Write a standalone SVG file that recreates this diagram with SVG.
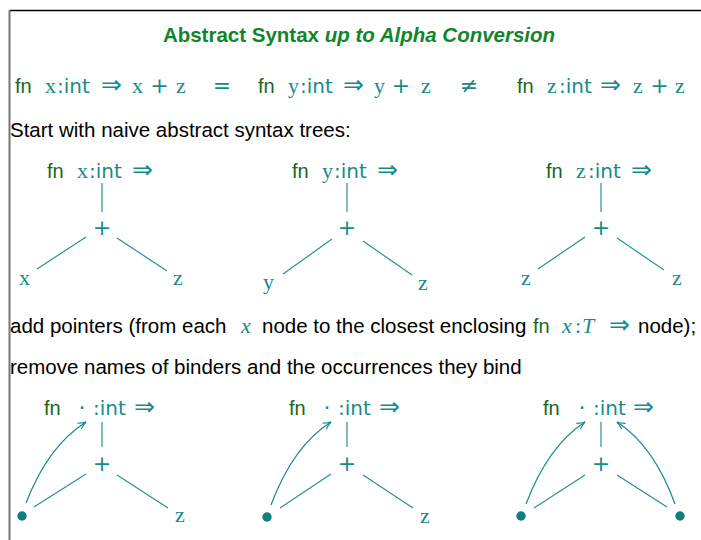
<svg xmlns="http://www.w3.org/2000/svg" width="701" height="540" viewBox="0 0 701 540">
<style>
.t{font-family:"Liberation Sans",Arial,sans-serif;font-size:20.5px;fill:#000}
.title{font-family:"Liberation Sans",Arial,sans-serif;font-size:20.5px;font-weight:bold;fill:#11852c}
.fn{font-family:"Liberation Sans",Arial,sans-serif;font-size:20px;fill:#1b661b}
.v{font-family:"Liberation Serif","Times New Roman",serif;font-size:22px;fill:#178a8a}
.vi{font-family:"Liberation Serif","Times New Roman",serif;font-size:22px;font-style:italic;fill:#178a8a}
.s{font-family:"DejaVu Sans",sans-serif;font-size:20px;fill:#178a8a}
.op{font-family:"DejaVu Sans",sans-serif;font-size:22px;fill:#178a8a}
.arw{font-family:"DejaVu Sans",sans-serif;font-size:25px;fill:#178a8a}
.pl{font-family:"DejaVu Sans",sans-serif;font-size:22px;fill:#178a8a;text-anchor:middle}
.eq{font-family:"DejaVu Sans",sans-serif;font-size:22px;fill:#178a8a;text-anchor:middle}
.ln{stroke:#2a9090;stroke-width:1.2;fill:none}
.ar{stroke:#178a8a;stroke-width:1.2;fill:none}
.dot{fill:#0f8080}
</style>
<defs>
<marker id="tip" markerUnits="userSpaceOnUse" markerWidth="12" markerHeight="12" viewBox="-10 -6 12 12" refX="0" refY="0" orient="auto">
<path d="M-8,-3.5 Q-3,-0.6 0,0 Q-3,0.6 -8,3.5" stroke="#178a8a" stroke-width="1.1" fill="none"/>
</marker>
</defs>

<g id="frame">
<line x1="10" y1="10.5" x2="701" y2="10.5" stroke="#000" stroke-width="1.5"/>
<line x1="9.5" y1="10" x2="9.5" y2="540" stroke="#777" stroke-width="2"/>
</g>

<g id="title"><text class="title" x="359" y="42" text-anchor="middle">Abstract Syntax <tspan font-style="italic">up to Alpha Conversion</tspan></text></g>

<g id="equation">
<text class="fn" x="15" y="93">fn</text>
<text class="v" x="45" y="93">x</text><text class="s" x="57" y="93">:int</text>
<text class="arw" x="101" y="93">⇒</text>
<text class="v" x="132" y="93">x</text><text class="pl" x="159.5" y="93">+</text><text class="v" x="176" y="93">z</text>
<text class="eq" x="222" y="93">=</text>
<text class="fn" x="258" y="93">fn</text>
<text class="v" x="288" y="93">y</text><text class="s" x="300" y="93">:int</text>
<text class="arw" x="343" y="93">⇒</text>
<text class="v" x="374" y="93">y</text><text class="pl" x="401" y="93">+</text><text class="v" x="421" y="93">z</text>
<text class="eq" x="469" y="93">≠</text>
<text class="fn" x="517" y="93">fn</text>
<text class="v" x="547" y="93">z</text><text class="s" x="559" y="93">:int</text>
<text class="arw" x="600" y="93">⇒</text>
<text class="v" x="633" y="93">z</text><text class="pl" x="659.5" y="93">+</text><text class="v" x="675" y="93">z</text>
</g>

<g id="caption1"><text class="t" x="10" y="137">Start with naive abstract syntax trees:</text></g>

<g id="connectors">
<line class="ln" x1="102" y1="183" x2="102" y2="212"/>
<path class="ln" d="M86,237 L37,269"/>
<path class="ln" d="M117,238 L167,271"/>
<line class="ln" x1="347" y1="183" x2="347" y2="212"/>
<path class="ln" d="M332,239 L283,274"/>
<path class="ln" d="M363,241 L412,275"/>
<line class="ln" x1="601" y1="183" x2="601" y2="212"/>
<path class="ln" d="M585,237 L538,269"/>
<path class="ln" d="M617,238 L664,270"/>

<line class="ln" x1="102" y1="422" x2="102" y2="447"/>
<path class="ln" d="M86,474 L34,507"/>
<path class="ln" d="M117,475 L168,508"/>
<line class="ln" x1="347" y1="422" x2="347" y2="447"/>
<path class="ln" d="M331,474 L280,508"/>
<path class="ln" d="M363,475 L413,508"/>
<line class="ln" x1="601" y1="422" x2="601" y2="447"/>
<path class="ln" d="M585,475 L534,508"/>
<path class="ln" d="M617,475 L667,507"/>

<path class="ar" d="M26,503 Q48,446 86,422" marker-end="url(#tip)"/>
<path class="ar" d="M271,505 Q293,446 331,422" marker-end="url(#tip)"/>
<path class="ar" d="M526,504 Q548,446 585,422" marker-end="url(#tip)"/>
<path class="ar" d="M675,504 Q654,446 617,422" marker-end="url(#tip)"/>
</g>

<g id="tree1">
<text class="fn" x="47" y="178">fn</text><text class="v" x="77" y="178">x</text><text class="s" x="89" y="178">:int</text><text class="arw" x="132" y="178">⇒</text>
<text class="pl" x="102" y="235">+</text>
<text class="v" x="19" y="285">x</text>
<text class="v" x="173" y="285">z</text>
</g>
<g id="tree2">
<text class="fn" x="292" y="178">fn</text><text class="v" x="322" y="178">y</text><text class="s" x="334" y="178">:int</text><text class="arw" x="377" y="178">⇒</text>
<text class="pl" x="347" y="235">+</text>
<text class="v" x="263" y="289">y</text>
<text class="v" x="418" y="290">z</text>
</g>
<g id="tree3">
<text class="fn" x="546" y="178">fn</text><text class="v" x="576" y="178">z</text><text class="s" x="588" y="178">:int</text><text class="arw" x="631" y="178">⇒</text>
<text class="pl" x="601" y="235">+</text>
<text class="v" x="521" y="285">z</text>
<text class="v" x="672" y="285">z</text>
</g>

<g id="caption2">
<text class="t" y="333"><tspan x="10">add pointers (from each</tspan><tspan class="vi" x="241">x</tspan><tspan x="262">node to the closest enclosing</tspan><tspan class="fn" x="533">fn</tspan><tspan class="vi" x="562">x</tspan><tspan class="v" x="575">:</tspan><tspan class="vi" x="582">T</tspan><tspan class="arw" x="609">⇒</tspan><tspan x="638">node);</tspan></text>
</g>
<g id="caption3"><text class="t" x="10" y="374">remove names of binders and the occurrences they bind</text></g>

<g id="tree4">
<text class="fn" x="44" y="415">fn</text><text class="op" x="82" y="415" text-anchor="middle">·</text><text class="s" x="93" y="415">:int</text><text class="arw" x="134" y="415">⇒</text>
<text class="pl" x="102" y="471">+</text>
<circle class="dot" cx="22" cy="516" r="4.7"/>
<text class="v" x="175" y="522">z</text>
</g>
<g id="tree5">
<text class="fn" x="289" y="415">fn</text><text class="op" x="327" y="415" text-anchor="middle">·</text><text class="s" x="338" y="415">:int</text><text class="arw" x="379" y="415">⇒</text>
<text class="pl" x="347" y="471">+</text>
<circle class="dot" cx="267" cy="517" r="4.7"/>
<text class="v" x="420" y="523">z</text>
</g>
<g id="tree6">
<text class="fn" x="543" y="415">fn</text><text class="op" x="582" y="415" text-anchor="middle">·</text><text class="s" x="593" y="415">:int</text><text class="arw" x="633" y="415">⇒</text>
<text class="pl" x="601" y="471">+</text>
<circle class="dot" cx="521" cy="516" r="4.7"/>
<circle class="dot" cx="680" cy="516" r="4.7"/>
</g>
</svg>
